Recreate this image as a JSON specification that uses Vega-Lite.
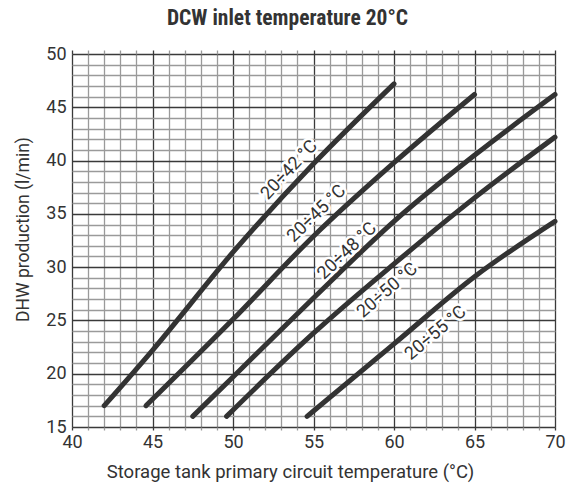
{
  "$schema": "https://vega.github.io/schema/vega-lite/v6.json",
  "width": 483,
  "height": 373,
  "autosize": {"type": "none"},
  "padding": {"left": 72, "top": 54, "right": 16, "bottom": 63},
  "background": "white",
  "title": {
    "text": "DCW inlet temperature 20°C",
    "font": "Roboto Condensed, Roboto",
    "fontSize": 21.5,
    "fontWeight": "bold",
    "color": "#333333",
    "anchor": "middle",
    "dx": -26,
    "offset": 16
  },
  "datasets": {
    "curves": [
      {"series": "20÷42 °C", "t": 42, "q": 17},
      {"series": "20÷42 °C", "t": 45, "q": 22.2},
      {"series": "20÷42 °C", "t": 50, "q": 31.4},
      {"series": "20÷42 °C", "t": 55, "q": 39.7},
      {"series": "20÷42 °C", "t": 60, "q": 47.2},
      {"series": "20÷45 °C", "t": 44.6, "q": 17},
      {"series": "20÷45 °C", "t": 50, "q": 25.1},
      {"series": "20÷45 °C", "t": 55, "q": 32.9},
      {"series": "20÷45 °C", "t": 60, "q": 39.8},
      {"series": "20÷45 °C", "t": 65, "q": 46.2},
      {"series": "20÷48 °C", "t": 47.5, "q": 16},
      {"series": "20÷48 °C", "t": 50, "q": 19.7},
      {"series": "20÷48 °C", "t": 55, "q": 27.1},
      {"series": "20÷48 °C", "t": 60, "q": 34.3},
      {"series": "20÷48 °C", "t": 65, "q": 40.5},
      {"series": "20÷48 °C", "t": 70, "q": 46.2},
      {"series": "20÷50 °C", "t": 49.6, "q": 16},
      {"series": "20÷50 °C", "t": 55, "q": 23.8},
      {"series": "20÷50 °C", "t": 60, "q": 30.3},
      {"series": "20÷50 °C", "t": 65, "q": 36.5},
      {"series": "20÷50 °C", "t": 70, "q": 42.2},
      {"series": "20÷55 °C", "t": 54.6, "q": 16},
      {"series": "20÷55 °C", "t": 60, "q": 22.8},
      {"series": "20÷55 °C", "t": 65, "q": 29.1},
      {"series": "20÷55 °C", "t": 70, "q": 34.3}
    ],
    "labels": [
      {"label": "20÷42 °C", "t": 53.5, "q": 39.1},
      {"label": "20÷45 °C", "t": 55.2, "q": 35.0},
      {"label": "20÷48 °C", "t": 57.1, "q": 31.5},
      {"label": "20÷50 °C", "t": 59.6, "q": 27.8},
      {"label": "20÷55 °C", "t": 62.6, "q": 23.8}
    ]
  },
  "resolve": {"axis": {"x": "independent"}},
  "encoding": {
    "y": {
      "field": "q",
      "type": "quantitative",
      "scale": {"domain": [15, 50], "nice": false, "zero": false},
      "axis": {
        "title": "DHW production (l/min)",
        "values": [15,16,17,18,19,20,21,22,23,24,25,26,27,28,29,30,31,32,33,34,35,36,37,38,39,40,41,42,43,44,45,46,47,48,49,50],
        "labelExpr": "datum.value % 5 === 0 ? datum.label : ''",
        "labelOverlap": false,
        "labelFlush": false,
        "grid": true,
        "gridColor": {"condition": {"test": "datum.value % 5 === 0", "value": "#3a3a3a"}, "value": "#9a9a9a"},
        "gridWidth": 1.3,
        "gridOpacity": 1,
        "domain": false,
        "ticks": false,
        "labelFont": "Roboto",
        "labelFontSize": 18,
        "labelColor": "#333333",
        "labelPadding": 6,
        "titleFont": "Roboto",
        "titleFontSize": 17.5,
        "titleFontWeight": "normal",
        "titleColor": "#333333",
        "titleX": -44,
        "titleY": 175,
        "titleAngle": -90,
        "titleAlign": "center",
        "titleBaseline": "alphabetic"
      }
    }
  },
  "layer": [
    {
      "data": {"name": "curves"},
      "mark": {"type": "line", "color": "#333333", "strokeWidth": 5, "strokeCap": "round", "strokeJoin": "round", "interpolate": "monotone"},
      "encoding": {
        "x": {
          "field": "t",
          "type": "quantitative",
          "scale": {"domain": [40, 70], "nice": false, "zero": false},
          "axis": {
            "title": "Storage tank primary circuit temperature (°C)",
            "values": [40,41,42,43,44,45,46,47,48,49,50,51,52,53,54,55,56,57,58,59,60,61,62,63,64,65,66,67,68,69,70],
            "labelExpr": "datum.value % 5 === 0 ? datum.label : ''",
            "labelOverlap": false,
            "labelFlush": false,
            "grid": true,
            "gridColor": {"condition": {"test": "datum.value % 5 === 0", "value": "#3a3a3a"}, "value": "#9a9a9a"},
            "gridWidth": 1.3,
            "gridOpacity": 1,
            "domain": false,
            "ticks": true,
            "tickSize": 3,
            "tickWidth": 1.3,
            "tickColor": {"condition": {"test": "datum.value % 5 === 0", "value": "#3a3a3a"}, "value": "#9a9a9a"},
            "labelFont": "Roboto",
            "labelFontSize": 18,
            "labelColor": "#333333",
            "labelPadding": 3,
            "titleFont": "Roboto",
            "titleFontSize": 18.5,
            "titleFontWeight": "normal",
            "titleColor": "#333333",
            "titleX": 218,
            "titleY": 50,
            "titleAlign": "center",
            "titleBaseline": "alphabetic"
          }
        },
        "detail": {"field": "series", "type": "nominal"}
      }
    },
    {
      "data": {"name": "labels"},
      "mark": {"type": "text", "font": "Roboto", "fontSize": 18, "fill": "white", "stroke": "white", "strokeWidth": 5, "strokeJoin": "round", "baseline": "middle", "align": "center"},
      "encoding": {
        "x": {
          "field": "t",
          "type": "quantitative",
          "axis": {
            "orient": "top",
            "values": [40,41,42,43,44,45,46,47,48,49,50,51,52,53,54,55,56,57,58,59,60,61,62,63,64,65,66,67,68,69,70],
            "labels": false,
            "title": null,
            "grid": false,
            "domain": false,
            "ticks": true,
            "tickSize": 4,
            "tickWidth": 1.3,
            "tickColor": {"condition": {"test": "datum.value % 5 === 0", "value": "#3a3a3a"}, "value": "#9a9a9a"}
          }
        },
        "text": {"field": "label", "type": "nominal"},
        "angle": {"field": "label", "type": "nominal", "scale": {"type": "ordinal", "domain": ["20÷42 °C","20÷45 °C","20÷48 °C","20÷50 °C","20÷55 °C"], "range": [313,316,316.5,319,320]}, "legend": null}
      }
    },
    {
      "data": {"name": "labels"},
      "mark": {"type": "text", "font": "Roboto", "fontSize": 18, "color": "#333333", "baseline": "middle", "align": "center"},
      "encoding": {
        "x": {"field": "t", "type": "quantitative", "axis": null},
        "text": {"field": "label", "type": "nominal"},
        "angle": {"field": "label", "type": "nominal", "scale": {"type": "ordinal", "domain": ["20÷42 °C","20÷45 °C","20÷48 °C","20÷50 °C","20÷55 °C"], "range": [313,316,316.5,319,320]}, "legend": null}
      }
    }
  ]
}
